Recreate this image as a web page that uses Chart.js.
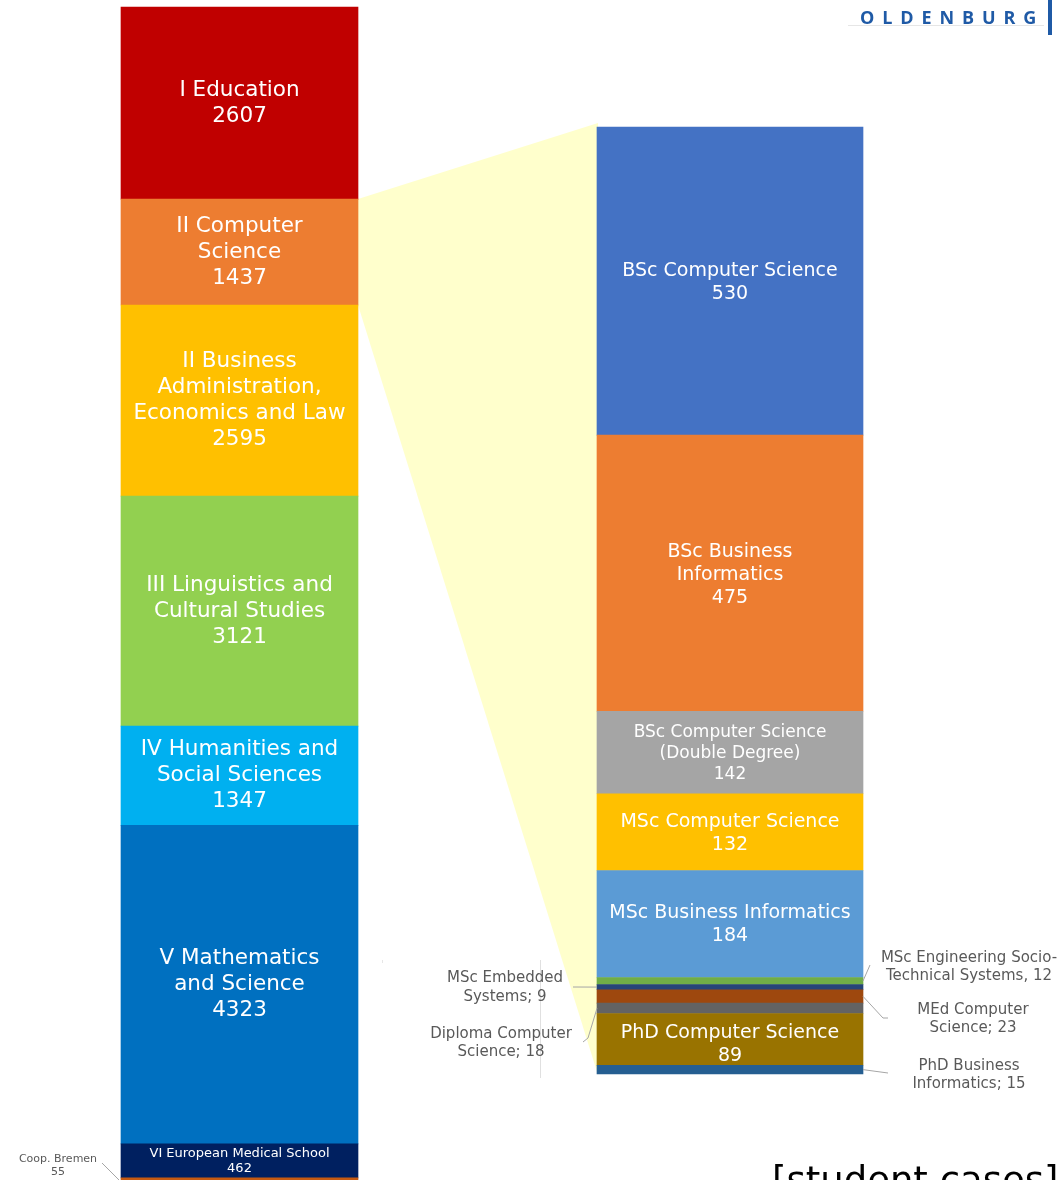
<!DOCTYPE html>
<html>
<head>
<meta charset="utf-8">
<script src="https://cdn.jsdelivr.net/npm/chart.js@4"></script>
<style>
  body { margin: 0; background: #fff; overflow: hidden; }
  #wrap { position: relative; width: 1061px; height: 1180px; overflow: hidden; }
  #chart { position: absolute; left: 0; top: 0; }
  .logo { position: absolute; left: 860px; top: 5px; font: 700 18px "Open Sans", sans-serif; letter-spacing: 7.9px; color: #1f5aa6; }
  .logoline { position: absolute; left: 848px; top: 25px; width: 196px; height: 1px; background: #e6e6e6; }
  .logobar { position: absolute; left: 1048px; top: 0; width: 4px; height: 35px; background: #1f5aa6; }
  .unit { position: absolute; left: 772px; top: 1162px; font: 37px "DejaVu Sans", sans-serif; line-height: 1; color: #000; white-space: nowrap; }
</style>
</head>
<body>
<div id="wrap">
  <canvas id="chart" width="1061" height="1184"></canvas>
  <div class="logoline"></div>
  <div class="logo">OLDENBURG</div>
  <div class="logobar"></div>
  <div class="unit">[student cases]</div>
</div>
<script>
// faculties, top to bottom
const facultyNames = [
  'I Education',
  'II Computer Science',
  'II Business Administration, Economics and Law',
  'III Linguistics and Cultural Studies',
  'IV Humanities and Social Sciences',
  'V Mathematics and Science',
  'VI European Medical School',
  'Coop. Bremen'
];
const facultyValues = [2607, 1437, 2595, 3121, 1347, 4323, 462, 55];
const facultyLines = [
  ['I Education'],
  ['II Computer', 'Science'],
  ['II Business', 'Administration,', 'Economics and Law'],
  ['III Linguistics and', 'Cultural Studies'],
  ['IV Humanities and', 'Social Sciences'],
  ['V Mathematics', 'and Science'],
  ['VI European Medical School'],
  null
];

// computer science programmes, top to bottom
const programNames = [
  'BSc Computer Science',
  'BSc Business Informatics',
  'BSc Computer Science (Double Degree)',
  'MSc Computer Science',
  'MSc Business Informatics',
  'MSc Engineering Socio-Technical Systems',
  'MSc Embedded Systems',
  'MEd Computer Science',
  'Diploma Computer Science',
  'PhD Computer Science',
  'PhD Business Informatics'
];
const programValues = [530, 475, 142, 132, 184, 12, 9, 23, 18, 89, 15];
const programLines = [
  ['BSc Computer Science'],
  ['BSc Business', 'Informatics'],
  ['BSc Computer Science', '(Double Degree)'],
  ['MSc Computer Science'],
  ['MSc Business Informatics'],
  null, null, null, null,
  ['PhD Computer Science'],
  null
];

const facultyColors = ['#c00000', '#ed7d31', '#ffc000', '#92d050', '#00b0f0', '#0070c0', '#002060', '#c55a11'];
// [font size, line height, vertical nudge]
const facultyFont = [[21.5, 26, 0], [21.5, 26, 0], [21.5, 26, 0], [21.5, 26, 0], [21.5, 26, 0], [21.5, 26, 0], [13, 15, 0], null];
const programColors = ['#4472c4', '#ed7d31', '#a5a5a5', '#ffc000', '#5b9bd5', '#70ad47',
                       '#264478', '#9e480e', '#636363', '#997300', '#255e91'];
const programFont = [[19, 23, 2], [19, 23, 2], [17, 21, 1], [19, 23, 1], [19, 23, 1], null, null, null, null, [19, 23, 5], null];

// labels outside the bars: text block + leader line (pixels)
const callouts = {
  'Coop. Bremen': { lines: ['Coop. Bremen', '55'], cx: 58, cy: 1159, size: 11, lh: 13, side: 'left',
    path: [[102, 1163]] },
  'MSc Engineering Socio-Technical Systems': { lines: ['MSc Engineering Socio-', 'Technical Systems, 12'], cx: 969, cy: 958, size: 15, lh: 18, side: 'right',
    path: [[870, 965]] },
  'MSc Embedded Systems': { lines: ['MSc Embedded', 'Systems; 9'], cx: 505, cy: 978, size: 15, lh: 19, side: 'left',
    path: [[573, 987]] },
  'MEd Computer Science': { lines: ['MEd Computer', 'Science; 23'], cx: 973, cy: 1010, size: 15, lh: 18, side: 'right',
    path: [[883, 1018], [888, 1018]] },
  'Diploma Computer Science': { lines: ['Diploma Computer', 'Science; 18'], cx: 501, cy: 1034, size: 15, lh: 18, side: 'left',
    path: [[588, 1038], [583, 1042]] },
  'PhD Business Informatics': { lines: ['PhD Business', 'Informatics; 15'], cx: 969, cy: 1066, size: 15, lh: 18, side: 'right',
    path: [[888, 1073]] }
};

const AREA_TOP = 7, AREA_BOTTOM = 1182;
const CS_TOP = 127, CS_BOTTOM = 1074;
const FONT = '"DejaVu Sans", Verdana, sans-serif';

const facultyTotal = facultyValues.reduce((a, b) => a + b, 0);
const csTotal = programValues.reduce((a, b) => a + b, 0);
const csPerPx = csTotal / (CS_BOTTOM - CS_TOP);

const datasets = [];
for (let i = facultyNames.length - 1; i >= 0; i--) {
  datasets.push({
    label: facultyNames[i],
    data: [facultyValues[i], null],
    backgroundColor: facultyColors[i],
    yAxisID: 'yL', stack: 'fac', grouped: false, barThickness: 237, clip: false,
    lines: facultyLines[i], fontSpec: facultyFont[i]
  });
}
for (let i = programNames.length - 1; i >= 0; i--) {
  datasets.push({
    label: programNames[i],
    data: [null, programValues[i]],
    backgroundColor: programColors[i],
    yAxisID: 'yR', stack: 'cs', grouped: false, barThickness: 266, clip: false,
    lines: programLines[i], fontSpec: programFont[i]
  });
}

function elementOf(chart, name) {
  const i = chart.data.datasets.findIndex(d => d.label === name);
  const meta = chart.getDatasetMeta(i);
  return meta.data[facultyNames.includes(name) ? 0 : 1];
}

const connector = {
  id: 'connector',
  beforeDatasetsDraw(chart) {
    const ctx = chart.ctx;
    const src = elementOf(chart, 'II Computer Science');
    const top = elementOf(chart, programNames[0]);
    const bottom = elementOf(chart, programNames[programNames.length - 1]);
    const x1 = src.x + src.width / 2;
    const x2 = top.x - top.width / 2;
    ctx.save();
    ctx.fillStyle = '#ffffcc';
    ctx.beginPath();
    ctx.moveTo(x1, src.y);
    ctx.lineTo(x2 + 1, top.y - 4);
    ctx.lineTo(x2 + 1, bottom.base + 1);
    ctx.lineTo(x1, src.base);
    ctx.closePath();
    ctx.fill();
    // faint guide line and dot seen in the slide
    ctx.strokeStyle = '#e0e0e0';
    ctx.lineWidth = 1;
    ctx.beginPath();
    ctx.moveTo(540.5, 960);
    ctx.lineTo(540.5, 1078);
    ctx.stroke();
    ctx.fillStyle = '#e6e6e6';
    ctx.fillRect(382, 960, 1, 3);
    ctx.restore();
  }
};

const labels = {
  id: 'labels',
  afterDatasetsDraw(chart) {
    const ctx = chart.ctx;
    ctx.save();
    ctx.textAlign = 'center';
    ctx.textBaseline = 'middle';
    chart.data.datasets.forEach((ds, i) => {
      const idx = ds.yAxisID === 'yL' ? 0 : 1;
      const el = chart.getDatasetMeta(i).data[idx];
      if (ds.lines) {
        const [size, lh, dy] = ds.fontSpec;
        const text = ds.lines.concat([String(ds.data[idx])]);
        const mid = (el.y + el.base) / 2 + dy;
        ctx.fillStyle = '#ffffff';
        ctx.font = size + 'px ' + FONT;
        text.forEach((t, k) => {
          ctx.fillText(t, el.x, mid + (k - (text.length - 1) / 2) * lh);
        });
      }
      const c = callouts[ds.label];
      if (c) {
        const mid = (el.y + el.base) / 2;
        const ex = c.side === 'right' ? el.x + el.width / 2 : el.x - el.width / 2;
        ctx.strokeStyle = '#a6a6a6';
        ctx.lineWidth = 1;
        ctx.beginPath();
        ctx.moveTo(ex, ds.label === 'Coop. Bremen' ? el.base : mid);
        c.path.forEach(p => ctx.lineTo(p[0], p[1]));
        ctx.stroke();
        ctx.fillStyle = '#595959';
        ctx.font = c.size + 'px ' + FONT;
        c.lines.forEach((t, k) => ctx.fillText(t, c.cx, c.cy + k * c.lh));
      }
    });
    ctx.restore();
  }
};

new Chart(document.getElementById('chart'), {
  type: 'bar',
  data: { labels: ['Faculties', 'Computer Science'], datasets: datasets },
  options: {
    responsive: false,
    animation: false,
    layout: { padding: { left: 239.5, right: 331, top: AREA_TOP, bottom: 1184 - AREA_BOTTOM } },
    plugins: { legend: { display: false }, tooltip: { enabled: false } },
    scales: {
      x: { type: 'category', offset: false, display: false, grid: { display: false } },
      yL: { stacked: true, display: false, min: 0, max: facultyTotal },
      yR: { stacked: true, display: false,
            min: -(AREA_BOTTOM - CS_BOTTOM) * csPerPx,
            max: csTotal + (CS_TOP - AREA_TOP) * csPerPx }
    }
  },
  plugins: [connector, labels]
});
</script>
</body>
</html>
